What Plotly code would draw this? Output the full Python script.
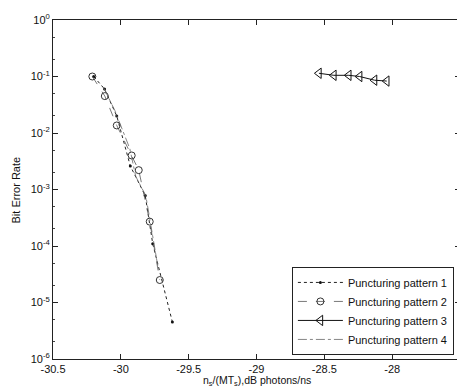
import plotly.graph_objects as go

# Data
p1_x = [-30.20, -30.12, -30.03, -29.93, -29.82, -29.765, -29.62]
p1_y = [0.10, 0.060, 0.020, 0.0026, 7.8e-4, 1.1e-4, 4.5e-6]

p2_x = [-30.21, -30.118, -30.03, -29.92, -29.868, -29.787, -29.713]
p2_y = [0.10, 0.045, 0.0136, 0.004, 0.0022, 2.7e-4, 2.5e-5]

p3_x = [-28.54, -28.43, -28.32, -28.24, -28.13, -28.04]
p3_y = [0.114, 0.105, 0.105, 0.100, 0.086, 0.083]

p4_x = [-30.125, -30.044, -29.934, -29.89, -29.816, -29.728]
p4_y = [0.062, 0.025, 0.0053, 0.0017, 7.8e-4, 4.5e-5]

x_ticks = [-30.5, -30, -29.5, -29, -28.5, -28, -27.5]
x_ticktext = ["-30.5", "-30", "-29.5", "-29", "-28.5", "-28", "-27.5"]
y_ticks = [1e-6, 1e-5, 1e-4, 1e-3, 1e-2, 1e-1, 1]
y_ticktext = ["10<sup>-6</sup>", "10<sup>-5</sup>", "10<sup>-4</sup>", "10<sup>-3</sup>",
              "10<sup>-2</sup>", "10<sup>-1</sup>", "10<sup>0</sup>"]

names = ["Puncturing pattern 1", "Puncturing pattern 2", "Puncturing pattern 3", "Puncturing pattern 4"]
x_title = "n<sub>s</sub>/(MT<sub>s</sub>),dB photons/ns"
y_title = "Bit Error Rate"

fig = go.Figure()
fig.add_trace(go.Scatter(x=p1_x, y=p1_y, name=names[0], mode="lines+markers",
                         line=dict(color="#222", width=1, dash="dot"),
                         marker=dict(symbol="circle", size=3, color="#111")))
fig.add_trace(go.Scatter(x=p2_x, y=p2_y, name=names[1], mode="lines+markers",
                         line=dict(color="#555", width=0.8, dash="dash"),
                         marker=dict(symbol="circle-open", size=7, color="#333", line=dict(width=1))))
fig.add_trace(go.Scatter(x=p3_x, y=p3_y, name=names[2], mode="lines+markers",
                         line=dict(color="#111", width=1),
                         marker=dict(symbol="triangle-left-open", size=9, color="#111", line=dict(width=1))))
fig.add_trace(go.Scatter(x=p4_x, y=p4_y, name=names[3], mode="lines",
                         line=dict(color="#666", width=0.8, dash="dashdot")))

fig.update_layout(
    width=457, height=382,
    margin=dict(l=45, r=5, t=12, b=31, autoexpand=False),
    paper_bgcolor="white", plot_bgcolor="white",
    font=dict(family="Liberation Sans, Arial, sans-serif", size=11, color="#111"),
    showlegend=True,
    legend=dict(x=0.985, xanchor="right", y=0.012, yanchor="bottom",
                bgcolor="white", bordercolor="#222", borderwidth=1,
                font=dict(size=11), itemwidth=45, tracegroupgap=0),
    annotations=[
        dict(text=x_title, xref="paper", yref="paper", x=0.5, y=-0.066,
             xanchor="center", yanchor="middle", showarrow=False, font=dict(size=10.5)),
        dict(text=y_title, xref="paper", yref="paper", x=-0.091, y=0.5,
             xanchor="center", yanchor="middle", textangle=-90, showarrow=False,
             font=dict(size=11)),
    ],
)
fig.update_xaxes(range=[-30.5, -27.5], tickvals=x_ticks, ticktext=x_ticktext,
                 ticks="inside", ticklen=5, tickcolor="#222", automargin=False,
                 showline=True, linecolor="#222", linewidth=1, mirror="ticks",
                 showgrid=False, zeroline=False)
fig.update_yaxes(type="log", range=[-6, 0], tickvals=y_ticks, ticktext=y_ticktext,
                 ticks="inside", ticklen=5, tickcolor="#222", automargin=False,
                 minor=dict(ticks="inside", ticklen=2, tickcolor="#444", showgrid=False),
                 showline=True, linecolor="#222", linewidth=1, mirror="ticks",
                 showgrid=False, zeroline=False)

fig.write_html("out.html")
